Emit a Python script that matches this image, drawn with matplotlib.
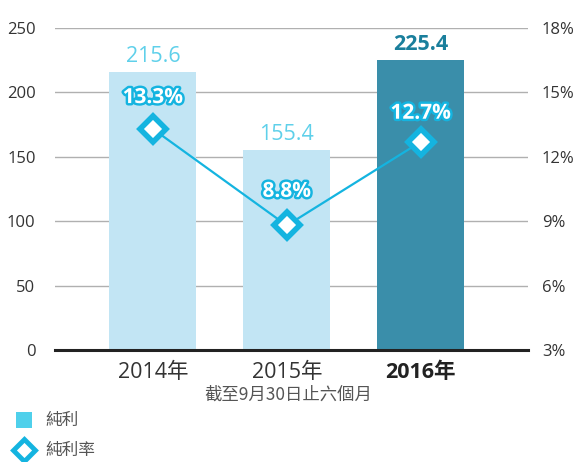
import matplotlib
matplotlib.use("Agg")
import matplotlib.pyplot as plt
import matplotlib.patheffects as pe
from matplotlib.lines import Line2D
from matplotlib.patches import Rectangle

years = ["2014年", "2015年", "2016年"]
profit = [215.6, 155.4, 225.4]
margin = [13.3, 8.8, 12.7]
margin_labels = ["13.3%", "8.8%", "12.7%"]
left_ticks = [0, 50, 100, 150, 200, 250]
right_ticks = [3, 6, 9, 12, 15, 18]
subtitle = "截至9月30日止六個月"
legend_labels = ["純利", "純利率"]

FONT = ["Open Sans", "Noto Sans CJK TC", "DejaVu Sans"]
CJK = ["Noto Sans CJK TC", "DejaVu Sans"]
plt.rcParams['font.family'] = FONT

W, H = 580, 462
fig = plt.figure(figsize=(5.8, 4.62), dpi=100)
ax = fig.add_axes([55 / W, 1 - 350 / H, 473 / W, 322 / H])
ax2 = ax.twinx()

light = "#c2e5f4"
dark = "#3a8eaa"
colors = [light, light, dark]
x = list(range(len(years)))
ax.bar(x, profit, width=0.65, color=colors, zorder=2)
ax.set_xlim(-0.73, 2.80)
ax.set_ylim(0, 250)
ax.set_yticks(left_ticks)
ax.set_yticklabels([str(t) for t in left_ticks])
ax.grid(axis='y', color="#b0b0b0", lw=1, zorder=0)
ax.set_axisbelow(True)
for s in ["top", "right", "left"]:
    ax.spines[s].set_visible(False)
ax.spines["bottom"].set_color("#222222")
ax.spines["bottom"].set_linewidth(2.2)
ax.tick_params(axis='y', length=0, pad=14, labelsize=12, labelcolor="#333333")
ax.tick_params(axis='x', length=0, pad=9, labelsize=15.5, labelcolor="#333333")
ax.set_xticks(x)
ax.set_xticklabels(years)
ax.get_xticklabels()[2].set_fontweight("bold")
ax.get_xticklabels()[2].set_color("#222222")

for i, v in enumerate(profit):
    if i == 2:
        ax.text(i, v + 4, f"{v}", ha='center', va='bottom', fontsize=15.5,
                fontweight='bold', color="#1a7f9c", zorder=5)
    else:
        ax.text(i, v + 4, f"{v}", ha='center', va='bottom', fontsize=15.5,
                color="#5fd0ea", zorder=5)

ax2.set_ylim(3, 18)
ax2.set_yticks(right_ticks)
ax2.set_yticklabels([f"{t}%" for t in right_ticks])
for s in ["top", "right", "left", "bottom"]:
    ax2.spines[s].set_visible(False)
ax2.tick_params(axis='y', length=0, pad=10, labelsize=12, labelcolor="#333333")

line_c = "#14b4e0"
ax2.plot(x, margin, color=line_c, lw=1.6, marker='D', markersize=13,
         markerfacecolor='white', markeredgecolor=line_c, markeredgewidth=4, zorder=4)
offsets = [15, 17, 13]
for i, (m, lab) in enumerate(zip(margin, margin_labels)):
    ax2.annotate(lab, (i, m), xytext=(0, offsets[i]), textcoords='offset points',
                 ha='center', va='bottom', fontsize=15, fontweight='bold',
                 color='white', zorder=6,
                 path_effects=[pe.withStroke(linewidth=3.5, foreground=line_c)])

fig.text(288 / W, 1 - 395 / H, subtitle, ha='center', va='center', fontsize=12.5,
         style='italic', color="#555555", family=CJK)

# legend
fig.patches.append(Rectangle((16 / W, 1 - 428 / H), 16 / W, 16 / H, transform=fig.transFigure,
                             facecolor="#4fd0eb", edgecolor='none'))
fig.lines.append(Line2D([24 / W], [1 - 450 / H], transform=fig.transFigure, marker='D',
                        ls='none', markersize=11, markerfacecolor='white',
                        markeredgecolor=line_c, markeredgewidth=3.5))
fig.text(45 / W, 1 - 420 / H, legend_labels[0], ha='left', va='center', fontsize=12,
         color="#555555", family=CJK)
fig.text(45 / W, 1 - 450 / H, legend_labels[1], ha='left', va='center', fontsize=12,
         color="#555555", family=CJK)

fig.savefig("out.png", dpi=100)
